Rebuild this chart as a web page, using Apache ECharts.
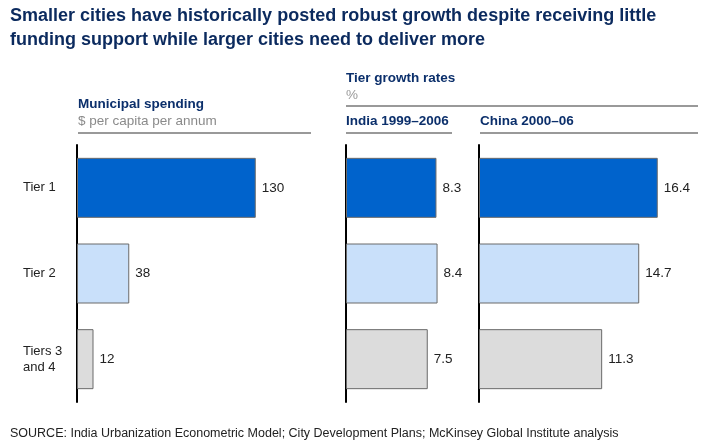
<!DOCTYPE html>
<html><head><meta charset="utf-8">
<script src="https://cdn.jsdelivr.net/npm/echarts@6/dist/echarts.min.js"></script>
<style>html,body{margin:0;padding:0;background:#fff}#c{width:712px;height:448px}</style>
</head><body><div id="c"></div>
<script>
const categories = ['Tier 1', 'Tier 2', 'Tiers 3\nand 4'];
const municipalSpending = [130, 38, 12];
const indiaGrowth = [8.3, 8.4, 7.5];
const chinaGrowth = [16.4, 14.7, 11.3];
const barColors = ['#0063cc', '#c9e0fa', '#dcdcdc'];

const FONT = '"Liberation Sans", Arial, sans-serif';
const chart = echarts.init(document.getElementById('c'));

const TOP = 145, HEIGHT = 257;
const grids = [
  {left: 77, top: TOP, width: 247.5, height: HEIGHT, max: 180},
  {left: 346, top: TOP, width: 130.8, height: HEIGHT, max: 12},
  {left: 479, top: TOP, width: 218, height: HEIGHT, max: 20}
];
const datasets = [municipalSpending, indiaGrowth, chinaGrowth];

const option = {
  animation: false,
  textStyle: {fontFamily: FONT},
  grid: grids.map(g => ({left: g.left, top: g.top, width: g.width, height: g.height, containLabel: false})),
  xAxis: grids.map((g, i) => ({
    type: 'value', gridIndex: i, min: 0, max: g.max, show: false
  })),
  yAxis: grids.map((g, i) => ({
    type: 'category', gridIndex: i, data: categories, inverse: true,
    axisLine: {show: true, lineStyle: {color: '#000', width: 2}},
    axisTick: {show: false},
    splitLine: {show: false},
    axisLabel: i === 0 ? {
      show: true, align: 'left', margin: 54, color: '#222', fontSize: 13,
      fontFamily: FONT, lineHeight: 16
    } : {show: false}
  })),
  series: datasets.map((d, i) => ({
    type: 'bar', xAxisIndex: i, yAxisIndex: i,
    barWidth: 60,
    data: d.map((v, j) => ({value: v, itemStyle: {color: barColors[j]}})),
    itemStyle: {borderColor: '#6a6a6a', borderWidth: 1},
    label: {show: true, position: 'right', distance: 6, color: '#222', fontSize: 13.5, fontFamily: FONT,
      formatter: p => (i === 0 ? String(p.value) : p.value.toFixed(1))}
  })),
  graphic: [
    {type: 'text', left: 10, top: 4, style: {
      text: 'Smaller cities have historically posted robust growth despite receiving little\nfunding support while larger cities need to deliver more',
      font: 'bold 18px ' + FONT, fill: '#0b2a5e', lineHeight: 24}},
    {type: 'text', left: 78, top: 97, style: {text: 'Municipal spending', font: 'bold 13.5px ' + FONT, fill: '#0b2f6b'}},
    {type: 'text', left: 78, top: 114, style: {text: '$ per capita per annum', font: '13.5px ' + FONT, fill: '#8a8a8a'}},
    {type: 'line', shape: {x1: 78, y1: 133, x2: 311, y2: 133}, style: {stroke: '#777', lineWidth: 1.5}},
    {type: 'text', left: 346, top: 71, style: {text: 'Tier growth rates', font: 'bold 13.5px ' + FONT, fill: '#0b2f6b'}},
    {type: 'text', left: 346, top: 88, style: {text: '%', font: '13.5px ' + FONT, fill: '#9a9a9a'}},
    {type: 'line', shape: {x1: 346, y1: 106, x2: 698, y2: 106}, style: {stroke: '#777', lineWidth: 1.5}},
    {type: 'text', left: 346, top: 114, style: {text: 'India 1999–2006', font: 'bold 13.5px ' + FONT, fill: '#0b2f6b'}},
    {type: 'line', shape: {x1: 346, y1: 133, x2: 452, y2: 133}, style: {stroke: '#777', lineWidth: 1.5}},
    {type: 'text', left: 480, top: 114, style: {text: 'China 2000–06', font: 'bold 13.5px ' + FONT, fill: '#0b2f6b'}},
    {type: 'line', shape: {x1: 480, y1: 133, x2: 698, y2: 133}, style: {stroke: '#777', lineWidth: 1.5}},
    {type: 'text', left: 10, top: 427, style: {
      text: 'SOURCE: India Urbanization Econometric Model; City Development Plans; McKinsey Global Institute analysis',
      font: '12.5px ' + FONT, fill: '#222'}}
  ]
};
chart.setOption(option);
</script>
</body></html>
